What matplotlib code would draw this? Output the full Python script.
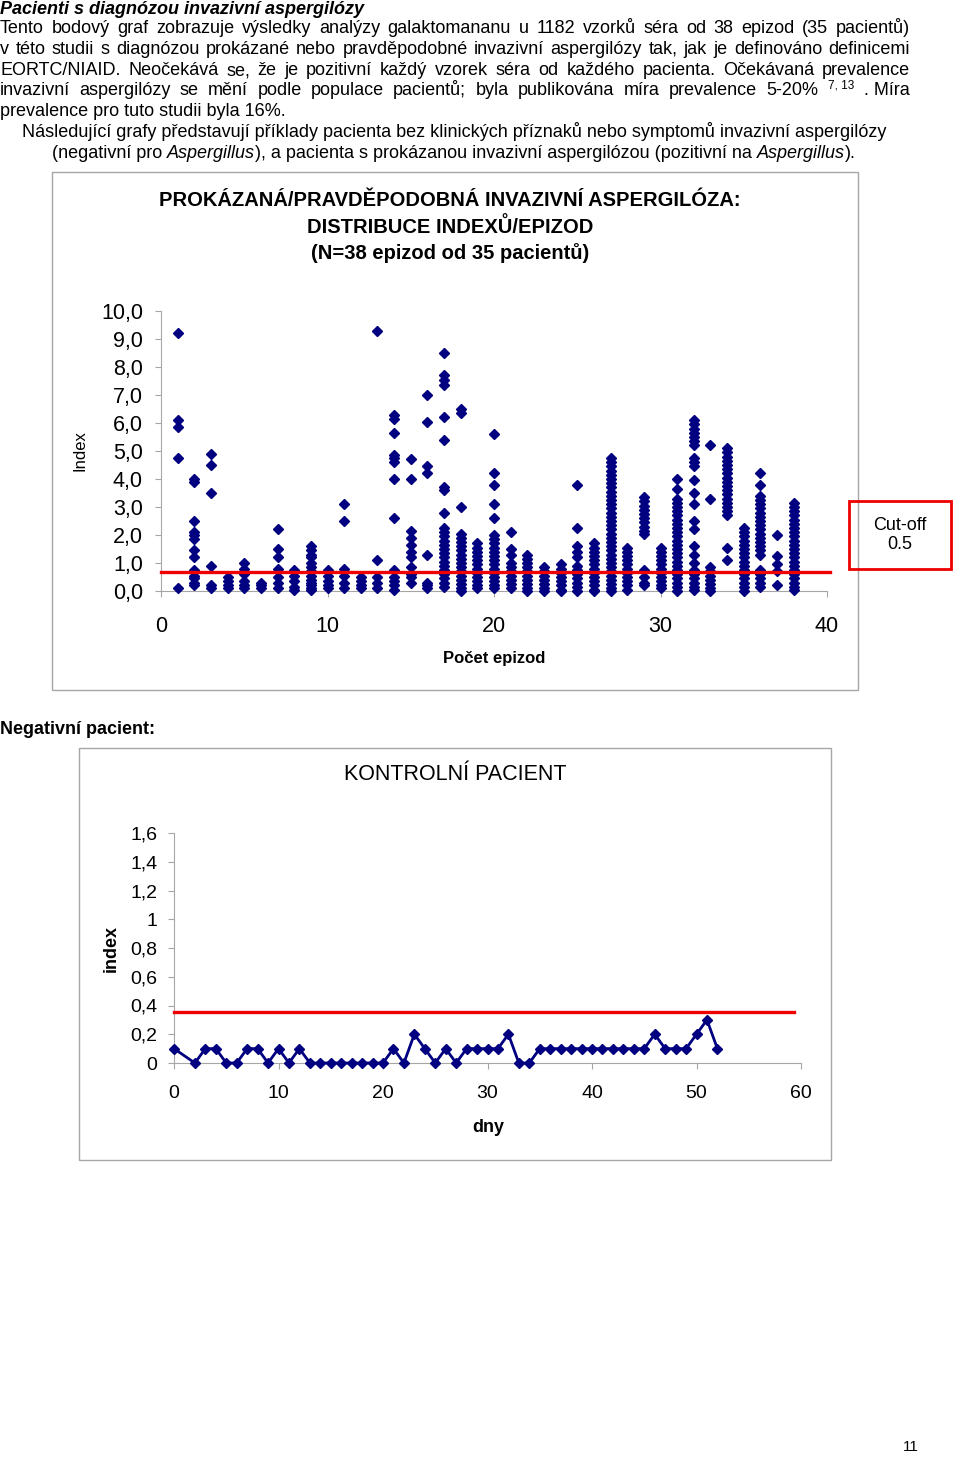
import matplotlib
matplotlib.use("Agg")
import matplotlib.pyplot as plt
from matplotlib.patches import Rectangle

plt.rcParams['font.family'] = ['Liberation Sans', 'DejaVu Sans']

W, H = 960, 1457

# --- data: galaktomanan index per episode ---
episodes = list(range(1, 39))
index_by_episode = [
    [9.2, 6.1, 5.85, 4.75, 0.1],
    [4.0, 3.9, 2.5, 2.1, 2.0, 1.85, 1.45, 1.2, 0.75, 0.55, 0.45, 0.3, 0.2],
    [4.9, 4.5, 3.5, 0.9, 0.2, 0.1],
    [0.5, 0.35, 0.2, 0.1],
    [1.0, 0.8, 0.6, 0.35, 0.2, 0.1],
    [0.3, 0.2, 0.1],
    [2.2, 1.5, 1.2, 0.8, 0.5, 0.3, 0.1],
    [0.75, 0.55, 0.35, 0.15, 0.05],
    [1.6, 1.45, 1.3, 1.2, 1.0, 0.85, 0.7, 0.55, 0.4, 0.3, 0.2, 0.1, 0.05],
    [0.75, 0.55, 0.35, 0.2, 0.1],
    [3.1, 2.5, 0.8, 0.55, 0.3, 0.1],
    [0.5, 0.35, 0.2, 0.1],
    [9.3, 1.1, 0.5, 0.3, 0.1],
    [6.3, 6.15, 5.65, 4.85, 4.75, 4.6, 4.0, 2.6, 0.75, 0.5, 0.35, 0.2, 0.05],
    [4.7, 4.0, 2.15, 1.9, 1.65, 1.4, 1.2, 0.85, 0.6, 0.5, 0.3],
    [7.0, 6.05, 4.45, 4.2, 1.3, 0.3, 0.2, 0.1],
    [8.5, 7.7, 7.55, 7.35, 6.2, 5.4, 3.7, 3.6, 2.8, 2.25, 2.1, 1.95, 1.8, 1.65,
     1.5, 1.35, 1.2, 1.05, 0.9, 0.75, 0.6, 0.45, 0.3, 0.15],
    [6.5, 6.35, 3.0, 2.05, 1.9, 1.75, 1.6, 1.45, 1.3, 1.15, 1.0, 0.85, 0.7, 0.55,
     0.4, 0.25, 0.1, 0.0],
    [1.7, 1.55, 1.4, 1.25, 1.1, 0.95, 0.8, 0.65, 0.5, 0.35, 0.2, 0.1],
    [5.6, 4.2, 3.8, 3.1, 2.6, 2.0, 1.85, 1.7, 1.55, 1.4, 1.25, 1.1, 0.95, 0.8,
     0.65, 0.5, 0.35, 0.2, 0.1],
    [2.1, 1.5, 1.3, 1.0, 0.85, 0.7, 0.55, 0.4, 0.25, 0.1],
    [1.3, 1.15, 1.0, 0.85, 0.7, 0.55, 0.4, 0.25, 0.1, 0.0],
    [0.85, 0.7, 0.55, 0.4, 0.25, 0.1, 0.0],
    [0.95, 0.8, 0.65, 0.5, 0.35, 0.2, 0.05, 0.0],
    [3.8, 2.25, 1.6, 1.4, 1.2, 0.9, 0.75, 0.6, 0.45, 0.3, 0.15, 0.0],
    [1.7, 1.55, 1.4, 1.25, 1.1, 0.95, 0.8, 0.65, 0.5, 0.35, 0.2, 0.05, 0.0],
    [4.75, 4.6, 4.45, 4.3, 4.15, 4.0, 3.85, 3.7, 3.55, 3.4, 3.25, 3.1, 2.95, 2.8,
     2.65, 2.5, 2.35, 2.2, 2.05, 1.9, 1.75, 1.6, 1.45, 1.3, 1.15, 1.0, 0.85, 0.7,
     0.55, 0.4, 0.25, 0.1, 0.0],
    [1.55, 1.4, 1.25, 1.1, 0.95, 0.8, 0.65, 0.5, 0.35, 0.2, 0.05],
    [3.35, 3.2, 3.05, 2.9, 2.75, 2.6, 2.45, 2.3, 2.15, 2.05, 0.75, 0.5, 0.3, 0.2],
    [1.55, 1.4, 1.25, 1.1, 0.95, 0.8, 0.65, 0.5, 0.35, 0.2, 0.1],
    [4.0, 3.65, 3.3, 3.15, 3.0, 2.85, 2.7, 2.55, 2.4, 2.25, 2.1, 1.95, 1.8, 1.65,
     1.5, 1.35, 1.2, 1.05, 0.9, 0.75, 0.6, 0.45, 0.3, 0.15, 0.0],
    [6.1, 5.95, 5.8, 5.65, 5.5, 5.35, 5.2, 4.75, 4.6, 4.45, 3.95, 3.5, 3.1, 2.5,
     2.2, 1.6, 1.3, 1.0, 0.75, 0.6, 0.45, 0.3, 0.15, 0.05],
    [5.2, 3.3, 0.85, 0.7, 0.55, 0.4, 0.25, 0.1, 0.0],
    [5.1, 4.95, 4.8, 4.65, 4.5, 4.35, 4.2, 4.05, 3.9, 3.75, 3.6, 3.45, 3.3, 3.15,
     3.0, 2.85, 2.7, 1.55, 1.1],
    [2.25, 2.1, 1.95, 1.8, 1.65, 1.5, 1.35, 1.2, 1.05, 0.9, 0.75, 0.6, 0.45, 0.3,
     0.15, 0.0],
    [4.2, 3.8, 3.4, 3.25, 3.1, 2.95, 2.8, 2.65, 2.5, 2.35, 2.2, 2.05, 1.9, 1.75,
     1.6, 1.45, 1.3, 0.75, 0.6, 0.45, 0.3, 0.15],
    [2.0, 1.25, 0.95, 0.7, 0.2],
    [3.15, 3.0, 2.85, 2.7, 2.55, 2.4, 2.25, 2.1, 1.95, 1.8, 1.65, 1.5, 1.35, 1.2,
     1.05, 0.9, 0.75, 0.6, 0.45, 0.3, 0.15, 0.05],
]
cutoff_line_1 = 0.68

# --- data: kontrolni pacient ---
days = [0, 2, 3, 4, 5, 6, 7, 8, 9, 10, 11, 12, 13, 14, 15, 16, 17, 18, 19, 20,
        21, 22, 23, 24, 25, 26, 27, 28, 29, 30, 31, 32, 33, 34, 35, 36, 37, 38,
        39, 40, 41, 42, 43, 44, 45, 46, 47, 48, 49, 50, 51, 52]
control_index = [0.1, 0, 0.1, 0.1, 0, 0, 0.1, 0.1, 0, 0.1, 0, 0.1, 0, 0, 0, 0, 0,
                 0, 0, 0, 0.1, 0, 0.2, 0.1, 0, 0.1, 0, 0.1, 0.1, 0.1, 0.1, 0.2,
                 0, 0, 0.1, 0.1, 0.1, 0.1, 0.1, 0.1, 0.1, 0.1, 0.1, 0.1, 0.1,
                 0.2, 0.1, 0.1, 0.1, 0.2, 0.3, 0.1]
cutoff_line_2 = 0.355

y1_ticks = [0, 1, 2, 3, 4, 5, 6, 7, 8, 9, 10]
y1_labels = ["0,0", "1,0", "2,0", "3,0", "4,0", "5,0", "6,0", "7,0", "8,0", "9,0", "10,0"]
x1_ticks = [0, 10, 20, 30, 40]
y2_ticks = [0, 0.2, 0.4, 0.6, 0.8, 1.0, 1.2, 1.4, 1.6]
y2_labels = ["0", "0,2", "0,4", "0,6", "0,8", "1", "1,2", "1,4", "1,6"]
x2_ticks = [0, 10, 20, 30, 40, 50, 60]

NAVY = '#000080'
GRAY = '#a6a6a6'
BODY = 13

fig = plt.figure(figsize=(W / 100, H / 100), dpi=100)
renderer = fig.canvas.get_renderer()


def fx(x):
    return x / W


def fy(y):
    return 1 - y / H


def txt(x, y, s, **kw):
    kw.setdefault('va', 'center')
    return fig.text(fx(x), fy(y), s, **kw)


def width_of(t):
    return t.get_window_extent(renderer).width


# body text: y is the baseline
def justified(line, y, x0=0, x1=910, size=BODY):
    words = line.split()
    ts = [txt(0, y, w, fontsize=size, va='baseline') for w in words]
    ws = [width_of(t) for t in ts]
    gap = (x1 - x0 - sum(ws)) / (len(ws) - 1)
    x = x0
    for t, w in zip(ts, ws):
        t.set_position((fx(x), fy(y)))
        x += w + gap


def pieces(parts, x, y, size=BODY):
    for s, style in parts:
        t = txt(x, y, s, fontsize=size, style=style, va='baseline')
        x += width_of(t)


# --- text of the page ---
txt(0, 14, "Pacienti s diagnózou invazivní aspergilózy", fontsize=BODY,
    fontweight='bold', style='italic', va='baseline')
justified("Tento bodový graf zobrazuje výsledky analýzy galaktomananu u 1182 "
          "vzorků séra od 38 epizod (35 pacientů)", 33)
justified("v této studii s diagnózou prokázané nebo pravděpodobné invazivní "
          "aspergilózy tak, jak je definováno definicemi", 54)
justified("EORTC/NIAID. Neočekává se, že je pozitivní každý vzorek séra od "
          "každého pacienta. Očekávaná prevalence", 75)
justified("invazivní aspergilózy se mění podle populace pacientů; byla "
          "publikována míra prevalence 5-20%", 95, x1=818)
txt(828, 88, "7, 13", fontsize=8.5, va='baseline')
txt(910, 95, ". Míra", fontsize=BODY, ha='right', va='baseline')
txt(0, 116, "prevalence pro tuto studii byla 16%.", fontsize=BODY, va='baseline')
txt(22, 137, "Následující grafy představují příklady pacienta bez klinických "
    "příznaků nebo symptomů invazivní aspergilózy", fontsize=BODY, va='baseline')
pieces([("(negativní pro ", 'normal'), ("Aspergillus", 'italic'),
        ("), a pacienta s prokázanou invazivní aspergilózou (pozitivní na ", 'normal'),
        ("Aspergillus", 'italic'), (").", 'normal')], 52, 158)

# --- chart 1 frame and title ---
fig.add_artist(Rectangle((fx(52), fy(690)), (858 - 52) / W, (690 - 172) / H,
                         transform=fig.transFigure, fill=False,
                         edgecolor=GRAY, lw=1))
for yy, s in [(201, "PROKÁZANÁ/PRAVDĚPODOBNÁ INVAZIVNÍ ASPERGILÓZA:"),
              (227, "DISTRIBUCE INDEXŮ/EPIZOD"),
              (253, "(N=38 epizod od 35 pacientů)")]:
    txt(450, yy, s, fontsize=14.5, fontweight='bold', ha='center')

ax1 = fig.add_axes([fx(161), fy(591), (827 - 161) / W, (591 - 311) / H])
for ep, vals in zip(episodes, index_by_episode):
    ax1.plot([ep] * len(vals), vals, 'D', color=NAVY, ms=5.6, mec=NAVY,
             clip_on=False, zorder=3)
ax1.plot([0, 40.2], [cutoff_line_1, cutoff_line_1], color='#ee0000', lw=2.4,
         clip_on=False, zorder=4)
ax1.set_xlim(0, 40)
ax1.set_ylim(0, 10)
ax1.set_yticks(y1_ticks)
ax1.set_yticklabels(y1_labels)
ax1.set_xticks(x1_ticks)
for s in ['top', 'right']:
    ax1.spines[s].set_visible(False)
for s in ['left', 'bottom']:
    ax1.spines[s].set_color(GRAY)
ax1.tick_params(axis='y', direction='out', length=4, color=GRAY,
                labelsize=15.5, pad=9)
ax1.tick_params(axis='x', direction='out', length=4, color=GRAY,
                labelsize=15.5, pad=14)
ax1.patch.set_alpha(0)
txt(80, 451, "Index", fontsize=12, rotation=90, ha='center')
txt(494, 658, "Počet epizod", fontsize=12, fontweight='bold', ha='center')

fig.add_artist(Rectangle((fx(849), fy(569)), (951 - 849) / W, (569 - 501) / H,
                         transform=fig.transFigure, fill=False,
                         edgecolor='#ee0000', lw=2))
txt(900, 535, "Cut-off\n0.5", fontsize=13, ha='center', linespacing=1.1)

# --- chart 2 ---
txt(0, 729, "Negativní pacient:", fontsize=BODY, fontweight='bold')
fig.add_artist(Rectangle((fx(79), fy(1160)), (831 - 79) / W, (1160 - 748) / H,
                         transform=fig.transFigure, fill=False,
                         edgecolor=GRAY, lw=1))
txt(455, 774, "KONTROLNÍ PACIENT", fontsize=15.5, ha='center')

ax2 = fig.add_axes([fx(174), fy(1063), (801 - 174) / W, (1063 - 833) / H])
ax2.plot(days, control_index, '-D', color=NAVY, lw=2, ms=5.6, mec=NAVY,
         clip_on=False, zorder=3)
ax2.plot([0, 59.3], [cutoff_line_2, cutoff_line_2], color='#ee0000', lw=2.4,
         clip_on=False, zorder=4)
ax2.set_xlim(0, 60)
ax2.set_ylim(0, 1.6)
ax2.set_yticks(y2_ticks)
ax2.set_yticklabels(y2_labels)
ax2.set_xticks(x2_ticks)
for s in ['top', 'right']:
    ax2.spines[s].set_visible(False)
for s in ['left', 'bottom']:
    ax2.spines[s].set_color(GRAY)
ax2.tick_params(axis='y', direction='out', length=4, color=GRAY,
                labelsize=14, pad=8)
ax2.tick_params(axis='x', direction='out', length=4, color=GRAY,
                labelsize=14, pad=12)
ax2.patch.set_alpha(0)
txt(111, 949, "index", fontsize=13, fontweight='bold', rotation=90, ha='center')
txt(488, 1127, "dny", fontsize=13, fontweight='bold', ha='center')

txt(911, 1447, "11", fontsize=11, ha='center')

fig.savefig("out.png", dpi=100)
